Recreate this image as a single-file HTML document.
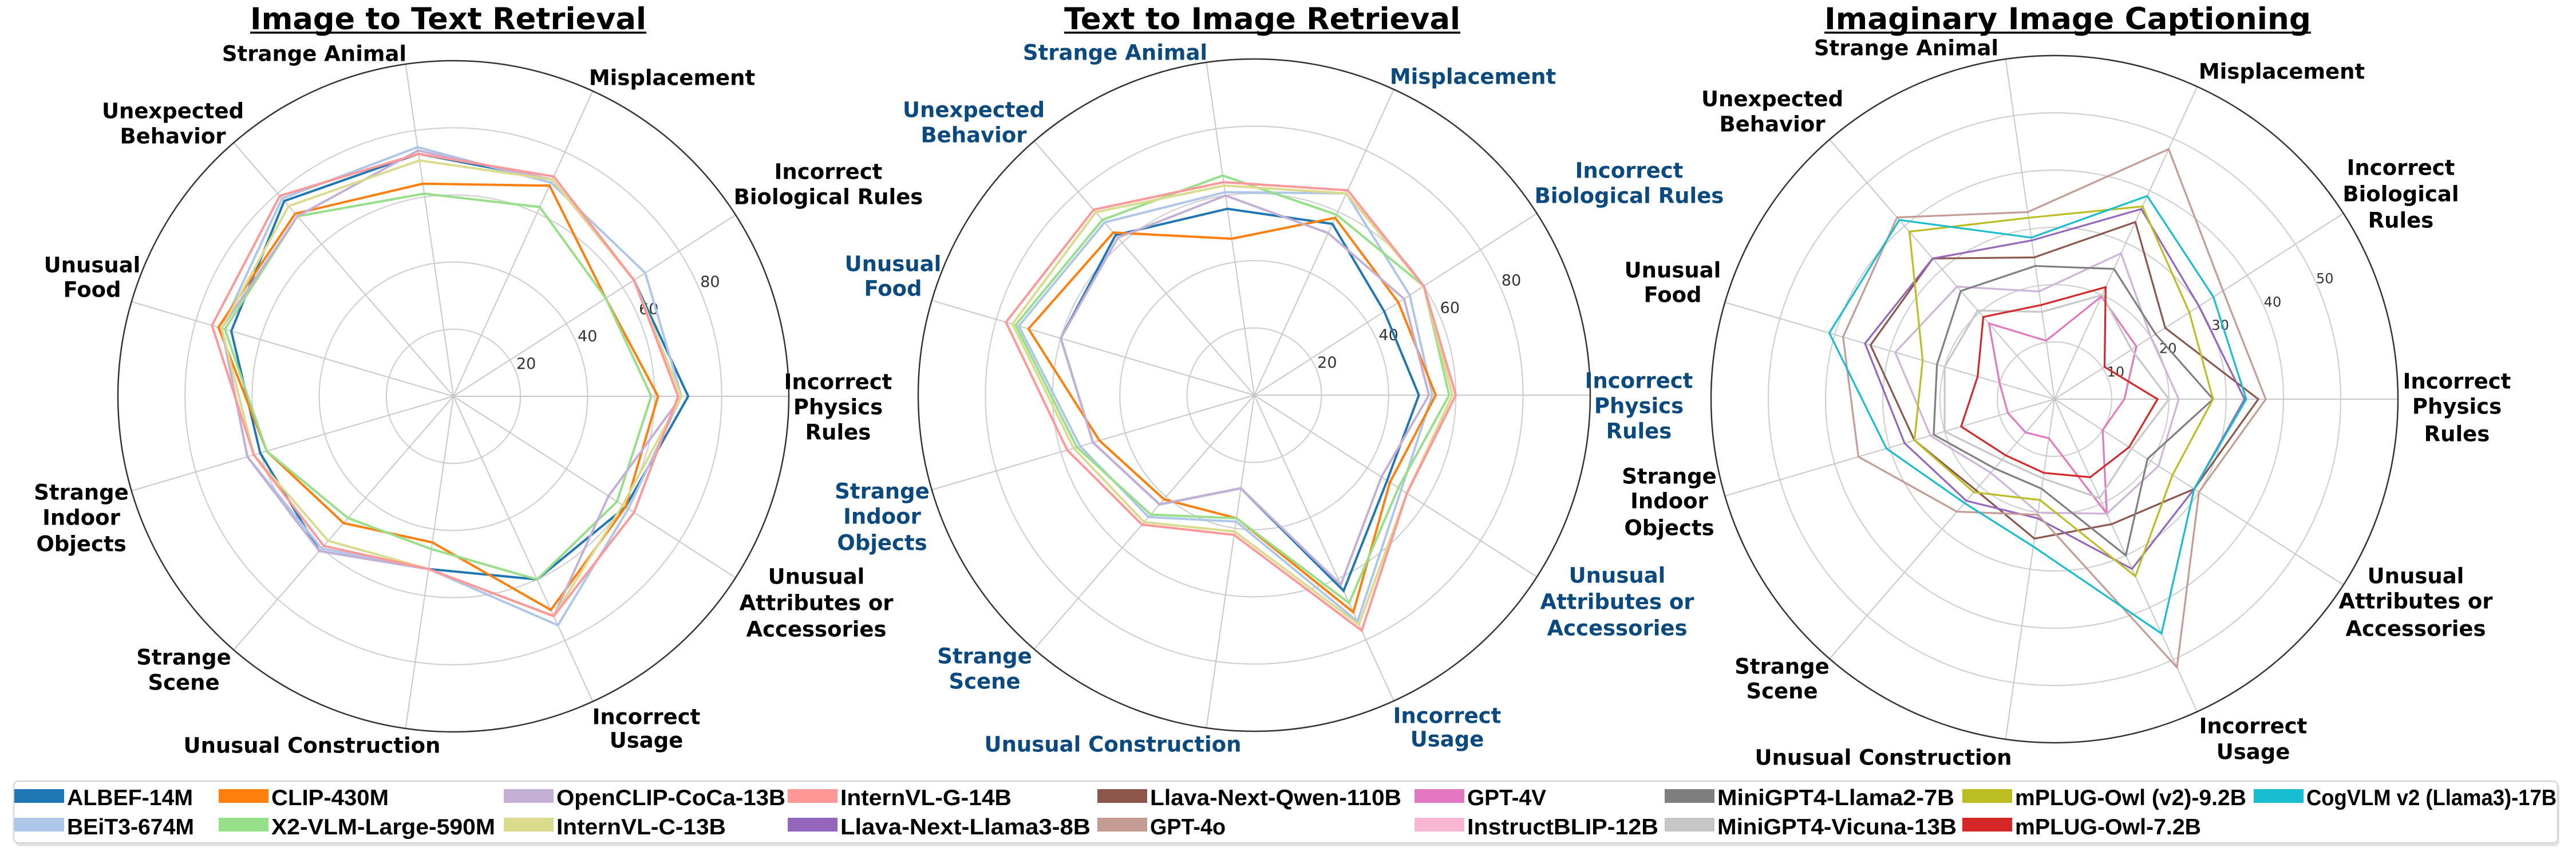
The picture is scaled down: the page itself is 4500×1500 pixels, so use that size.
<!DOCTYPE html>
<html><head><meta charset="utf-8"><style>
html,body{margin:0;padding:0;background:#fff;}
svg{display:block;}
text{font-family:"DejaVu Sans","Liberation Sans",sans-serif;}
.lg{font-family:"Liberation Sans",sans-serif;font-weight:bold;font-size:39px;}
</style></head><body>
<svg id="root" xmlns="http://www.w3.org/2000/svg" width="4500" height="1500" viewBox="0 0 4500 1500">
<rect x="0" y="0" width="4500" height="1500" fill="#fff"/>
<g id="charts"></g>
<g id="legend"></g>
</svg>
<script>
const categories = ["Incorrect Physics Rules","Incorrect Biological Rules","Misplacement","Strange Animal","Unexpected Behavior","Unusual Food","Strange Indoor Objects","Strange Scene","Unusual Construction","Incorrect Usage","Unusual Attributes or Accessories"];

const retrievalModels = ["ALBEF-14M","BEiT3-674M","CLIP-430M","X2-VLM-Large-590M","OpenCLIP-CoCa-13B","InternVL-C-13B","InternVL-G-14B"];
const i2tALBEF = [70,64,71,73,77,69,60,61,52,60,61];
const i2tBEiT3 = [68,68,70,75,78,72,64,60,52,75,62];
const i2tCLIP  = [61,54,69,64,72,73,58,50,44,70,61];
const i2tX2VLM = [59,54,62,61,71,71,58,48,46,60,58];
const i2tCoCa  = [68,64,71,74,71,72,64,61,52,72,55];
const i2tIVLC  = [68,64,71,71,75,72,62,57,52,72,60];
const i2tIVLG  = [67,64,72,73,79,75,62,59,52,72,64];

const t2iALBEF = [49,46,56,56,63,60,50,43,28,64,47];
const t2iBEiT3 = [53,55,66,61,68,73,54,48,38,74,52];
const t2iCLIP  = [54,51,58,47,64,70,48,41,37,71,48];
const t2iX2VLM = [58,60,59,66,69,74,55,47,37,68,51];
const t2iCoCa  = [52,53,53,60,62,60,50,43,28,62,45];
const t2iIVLC  = [59,60,66,63,72,75,56,50,41,75,54];
const t2iIVLG  = [60,60,67,64,73,77,58,51,42,77,54];

const captionModels = ["Llava-Next-Qwen-110B","Llava-Next-Llama3-8B","GPT-4V","GPT-4o","InstructBLIP-12B","MiniGPT4-Llama2-7B","MiniGPT4-Vicuna-13B","mPLUG-Owl (v2)-9.2B","mPLUG-Owl-7.2B","CogVLM v2 (Llama3)-17B"];
const capQwen    = [35.6,23,34,25,32.5,33.5,25.5,21,24.6,24,29];
const capLlama3  = [33.2,30,36.5,28,32.5,34.5,27.3,23.5,21,32.6,29];
const capGPT4V   = [12.2,17,19.7,10.3,17.5,10,8.5,7.7,6.9,22,10];
const capGPT4o   = [36.9,35,48,33,42,38.5,35.7,26,20.4,51.5,30];
const capIBLIP   = [21.7,20,28,19,26,29,22.6,17,20,22,21.6];
const capMGLlama = [27.7,21,25,23.5,25,21.4,22,16,15.8,30,19.3];
const capMGVic   = [20,16,20,15.4,20.5,20,20,14,14,19,16];
const capOwlV2   = [27.7,28,37,32,38.7,24,25.5,21.5,17.8,34,24.5];
const capOwl72   = [18,10.4,21.5,16.6,19,14,17,13,13,15,15.5];
const capCogVLM  = [33.5,33,39,28.5,41.4,41,30.6,24,26,45,29];

const ticksRetrieval = [20,40,60,80];
const ticksCaption = [10,20,30,40,50];

const legendRow1 = ["ALBEF-14M","CLIP-430M","OpenCLIP-CoCa-13B","InternVL-G-14B","Llava-Next-Qwen-110B","GPT-4V","MiniGPT4-Llama2-7B","mPLUG-Owl (v2)-9.2B","CogVLM v2 (Llama3)-17B"];
const legendRow2 = ["BEiT3-674M","X2-VLM-Large-590M","InternVL-C-13B","Llava-Next-Llama3-8B","GPT-4o","InstructBLIP-12B","MiniGPT4-Vicuna-13B","mPLUG-Owl-7.2B"];

const colors = {"ALBEF-14M":"#1f77b4","BEiT3-674M":"#aec7e8","CLIP-430M":"#ff7f0e","X2-VLM-Large-590M":"#98df8a","OpenCLIP-CoCa-13B":"#c5b0d5","InternVL-C-13B":"#dbdb8d","InternVL-G-14B":"#ff9896","Llava-Next-Qwen-110B":"#8c564b","Llava-Next-Llama3-8B":"#9467bd","GPT-4V":"#e377c2","GPT-4o":"#c49c94","InstructBLIP-12B":"#f7b6d2","MiniGPT4-Llama2-7B":"#7f7f7f","MiniGPT4-Vicuna-13B":"#c7c7c7","mPLUG-Owl (v2)-9.2B":"#bcbd22","mPLUG-Owl-7.2B":"#d62728","CogVLM v2 (Llama3)-17B":"#17becf"};
const lineColorOverride = {"InstructBLIP-12B":"#cfb3d8"};

const NS = "http://www.w3.org/2000/svg";
function mk(tag, attrs, parent){const e=document.createElementNS(NS,tag);for(const k in attrs)e.setAttribute(k,attrs[k]);if(parent)parent.appendChild(e);return e;}
function slug(s){return s.toLowerCase().replace(/[^a-z0-9]+/g,'-').replace(/(^-|-$)/g,'');}

const labelsRet = [
 {dx:672,dys:[-25,19,63],lines:["Incorrect","Physics","Rules"]},
 {dx:655,dys:[-392,-348],lines:["Incorrect","Biological  Rules"]},
 {dx:382,dys:[-556],lines:["Misplacement"]},
 {dx:-243,dys:[-598],lines:["Strange Animal"]},
 {dx:-490,dys:[-498,-454],lines:["Unexpected","Behavior"]},
 {dx:-631,dys:[-229,-186],lines:["Unusual","Food"]},
 {dx:-650,dys:[168,212,258],lines:["Strange","Indoor","Objects"]},
 {dx:-471,dys:[456,500],lines:["Strange","Scene"]},
 {dx:-247,dys:[610],lines:["Unusual Construction"]},
 {dx:337,dys:[560,601],lines:["Incorrect","Usage"]},
 {dx:634,dys:[315,361,407],lines:["Unusual","Attributes  or","Accessories"]}];
const labelsCap = [
 {dx:703,dys:[-31,13,61],lines:["Incorrect","Physics","Rules"]},
 {dx:605,dys:[-404,-358,-312],lines:["Incorrect","Biological","Rules"]},
 {dx:397,dys:[-572],lines:["Misplacement"]},
 {dx:-259,dys:[-613],lines:["Strange  Animal"]},
 {dx:-493,dys:[-524,-480],lines:["Unexpected","Behavior"]},
 {dx:-667,dys:[-225,-182],lines:["Unusual","Food"]},
 {dx:-673,dys:[135,178,225],lines:["Strange","Indoor","Objects"]},
 {dx:-476,dys:[467,510],lines:["Strange","Scene"]},
 {dx:-299,dys:[626],lines:["Unusual Construction"]},
 {dx:347,dys:[571,616],lines:["Incorrect","Usage"]},
 {dx:631,dys:[309,353,401],lines:["Unusual","Attributes  or","Accessories"]}];

function radar(cfg){
  const root=document.getElementById('charts');
  const g=mk('g',{},root);
  
  
  const n=categories.length, cx=cfg.cx, cy=cfg.cy, R=cfg.R;
  const rScale=v=>v/cfg.max*R;
  const ang=i=>i*2*Math.PI/n;
  const pt=(i,v)=>[cx+rScale(v)*Math.cos(ang(i)), cy-rScale(v)*Math.sin(ang(i))];
  cfg.ticks.forEach(t=>{
    const c=mk('circle',{cx:cx,cy:cy,r:rScale(t),fill:'none',stroke:'#d0d0d0','stroke-width':2.2},g);
    
    
  });
  for(let i=0;i<n;i++){
    const p=pt(i,cfg.max);
    const l=mk('line',{x1:cx,y1:cy,x2:p[0],y2:p[1],stroke:'#c8c8c8','stroke-width':2},g);
    
    
  }
  const oc=mk('circle',{cx:cx,cy:cy,r:R,fill:'none',stroke:'#333','stroke-width':2.5},g);
  
  
  const ta=24*Math.PI/180;
  cfg.ticks.forEach(t=>{
    const rr=rScale(t)+cfg.tickOff;
    const tx=mk('text',{x:cx+rr*Math.cos(ta),y:cy-rr*Math.sin(ta),'font-size':cfg.tickFs,fill:'#333','text-anchor':'middle','dominant-baseline':'central'},g);
    tx.textContent=String(t);
    
    
  });
  cfg.series.forEach(s=>{
    const d=s.values.map((v,i)=>{const p=pt(i,v);return (i?'L':'M')+p[0].toFixed(1)+' '+p[1].toFixed(1);}).join(' ')+' Z';
    const col=lineColorOverride[s.name]||colors[s.name];
    const p=mk('path',{d:d,fill:'none',stroke:col,'stroke-width':cfg.lw,'stroke-linejoin':'miter'},g);
    
    
  });
  cfg.labels.forEach((lb,i)=>{
    lb.lines.forEach((ln,k)=>{
      const tx=mk('text',{x:cx+lb.dx,y:cy+lb.dys[k],'font-size':37,'font-weight':'bold',fill:cfg.labelColor,'text-anchor':'middle','dominant-baseline':'central','xml:space':'preserve'},g);
      tx.textContent=ln;
      
      
    });
  });
  const tt=mk('text',{x:cfg.tx,y:51,'font-size':53,'font-weight':'bold',fill:'#000','text-anchor':'middle',textLength:cfg.tw,lengthAdjust:'spacingAndGlyphs'},g);
  tt.textContent=cfg.title;
  
  
  const ul=mk('line',{x1:cfg.tx-cfg.tw/2,x2:cfg.tx+cfg.tw/2,y1:57,y2:57,stroke:'#000','stroke-width':3.5},g);
  
  
}

const i2tSeries=[i2tALBEF,i2tBEiT3,i2tCLIP,i2tX2VLM,i2tCoCa,i2tIVLC,i2tIVLG].map((v,k)=>({name:retrievalModels[k],values:v}));
const t2iSeries=[t2iALBEF,t2iBEiT3,t2iCLIP,t2iX2VLM,t2iCoCa,t2iIVLC,t2iIVLG].map((v,k)=>({name:retrievalModels[k],values:v}));
const capSeries=[capQwen,capLlama3,capGPT4V,capGPT4o,capIBLIP,capMGLlama,capMGVic,capOwlV2,capOwl72,capCogVLM].map((v,k)=>({name:captionModels[k],values:v}));

radar({name:'image-to-text-radar',cx:792,cy:692,R:586,max:100,ticks:ticksRetrieval,tickOff:22,tickFs:27,series:i2tSeries,labels:labelsRet,labelColor:'#000',title:'Image to Text Retrieval',tx:783,tw:692,lw:4});
radar({name:'text-to-image-radar',cx:2191,cy:690,R:587,max:100,ticks:ticksRetrieval,tickOff:22,tickFs:27,series:t2iSeries,labels:labelsRet,labelColor:'#0b4a80',title:'Text to Image Retrieval',tx:2205,tw:692,lw:4});
radar({name:'imaginary-captioning-radar',cx:3589,cy:697,R:600,max:60,ticks:ticksCaption,tickOff:17,tickFs:24,series:capSeries,labels:labelsCap,labelColor:'#000',title:'Imaginary Image Captioning',tx:3612,tw:850,lw:3.2});

(function(){
  const L=document.getElementById('legend');
  const sh=mk('rect',{x:27,y:1368,width:4444,height:110,rx:8,fill:'#e4e4e4'},L);
  
  
  const box=mk('rect',{x:24,y:1364,width:4444,height:108,rx:8,fill:'#fff',stroke:'#d6d6d6','stroke-width':2.5},L);
  
  
  const colX=[25,382,880,1376,1917,2471,2908,3428,3937];
  const ends1=[337,679,1372,1767,2448,2701,3414,3924,4466];
  const ends2=[339,865,1268,1905,2141,2897,3418,3845];
  const rows=[[legendRow1,ends1,1378,1406],[legendRow2,ends2,1428,1457]];
  rows.forEach(([names,ends,sy,by])=>{
    names.forEach((nm,k)=>{
      const eg=mk('g',{},L);
      
      
      const sw=mk('rect',{x:colX[k],y:sy,width:87,height:24,fill:colors[nm]},eg);
      
      
      const tx=mk('text',{x:colX[k]+92,y:by,'class':'lg',fill:'#000',textLength:ends[k]-colX[k]-92,lengthAdjust:'spacingAndGlyphs'},eg);
      tx.textContent=nm;
      
      
    });
  });
})();
</script>
</body></html>
